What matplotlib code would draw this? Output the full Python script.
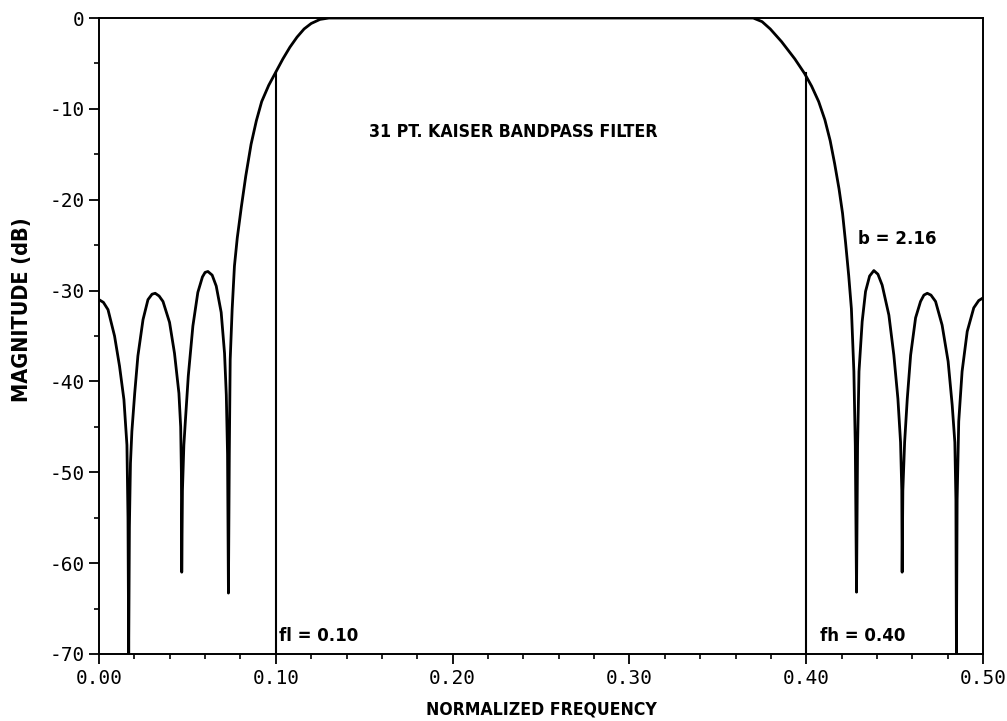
import numpy as np
import matplotlib
matplotlib.use("Agg")
import matplotlib.pyplot as plt
from matplotlib.ticker import MultipleLocator

plt.rcParams['axes.unicode_minus'] = False

# magnitude response (normalized frequency, dB)
freq_low = [0.0000, 0.0025, 0.0051, 0.0088, 0.0116, 0.0141, 0.0158, 0.0164, 0.0168, 0.0172,
            0.0178, 0.0186, 0.0202, 0.0220, 0.0249, 0.0277, 0.0300, 0.0318, 0.0340, 0.0362,
            0.0399, 0.0427, 0.0452, 0.0462, 0.0466, 0.0468, 0.0472, 0.0480, 0.0488, 0.0505,
            0.0531, 0.0559, 0.0585, 0.0600, 0.0616, 0.0640, 0.0663, 0.0691, 0.0710, 0.0720,
            0.0727, 0.0732, 0.0737, 0.0742, 0.0753, 0.0766, 0.0782, 0.0805, 0.0830, 0.0860,
            0.0890, 0.0920, 0.0960, 0.1000, 0.1040, 0.1080, 0.1120, 0.1160, 0.1200, 0.1250,
            0.1300]
mag_low = [-31.0, -31.3, -32.1, -35.0, -38.3, -42.0, -47.0, -55.0, -70.0, -56.0,
           -49.0, -45.5, -41.3, -37.2, -33.2, -31.0, -30.4, -30.3, -30.6, -31.2,
           -33.5, -36.9, -41.3, -45.0, -50.0, -61.0, -52.0, -47.0, -44.5, -39.4,
           -33.9, -30.2, -28.5, -28.0, -27.9, -28.3, -29.5, -32.4, -36.9, -41.5,
           -48.0, -63.3, -48.0, -37.6, -32.1, -27.3, -24.2, -20.8, -17.4, -13.9,
           -11.3, -9.2, -7.4, -5.95, -4.5, -3.2, -2.1, -1.2, -0.6, -0.15,
           0.0]

freq_high = [0.3700, 0.3750, 0.3796, 0.3860, 0.3935, 0.3990, 0.4030, 0.4070, 0.4105, 0.4135,
             0.4160, 0.4185, 0.4205, 0.4222, 0.4240, 0.4255, 0.4269, 0.4277, 0.4284, 0.4290,
             0.4298, 0.4316, 0.4335, 0.4358, 0.4382, 0.4405, 0.4429, 0.4467, 0.4495, 0.4518,
             0.4533, 0.4540, 0.4542, 0.4546, 0.4556, 0.4571, 0.4590, 0.4618, 0.4646, 0.4665,
             0.4684, 0.4705, 0.4731, 0.4768, 0.4802, 0.4825, 0.4840, 0.4846, 0.4849, 0.4853,
             0.4862, 0.4881, 0.4910, 0.4947, 0.4975, 0.5000]
mag_high = [0.0, -0.4, -1.2, -2.6, -4.5, -6.1, -7.5, -9.2, -11.2, -13.5,
            -16.0, -18.8, -21.5, -24.7, -28.4, -32.0, -38.9, -47.0, -63.2, -47.0,
            -38.9, -33.4, -30.1, -28.4, -27.8, -28.2, -29.4, -32.7, -37.1, -41.9,
            -46.7, -52.0, -61.0, -52.0, -46.7, -41.9, -37.1, -33.0, -31.2, -30.5,
            -30.3, -30.5, -31.2, -33.8, -37.8, -42.6, -46.7, -53.0, -70.0, -53.0,
            -44.4, -38.9, -34.5, -31.9, -31.1, -30.8]

band_edges = [0.10, 0.40]
edge_mags = [-5.95, -6.1]
edge_labels = ["fl = 0.10", "fh = 0.40"]

label_font = ['DejaVu Sans']

fig = plt.figure(figsize=(10.07, 7.21), dpi=100)
ax = fig.add_axes([0.0983, 0.093, 0.878, 0.882])

freq = freq_low + freq_high
mag = mag_low + mag_high
ax.plot(freq, mag, color='black', linewidth=2.0, solid_joinstyle='round')

# band edge markers
for f, m in zip(band_edges, edge_mags):
    ax.plot([f, f], [-70, m], color='black', linewidth=1.5)

ax.set_xlim(0, 0.5)
ax.set_ylim(-70, 0)
ax.xaxis.set_major_locator(MultipleLocator(0.1))
ax.xaxis.set_minor_locator(MultipleLocator(0.02))
ax.yaxis.set_major_locator(MultipleLocator(10))
ax.yaxis.set_minor_locator(MultipleLocator(5))
ax.set_xticks(ax.get_xticks())
ax.set_xticklabels([f"{v:.2f}" for v in ax.get_xticks()])
ax.set_xlim(0, 0.5)
ax.tick_params(which='major', direction='out', length=7, width=1.3, labelsize=14)
ax.tick_params(which='minor', direction='out', length=3.5, width=1.2)
for lab in ax.get_xticklabels() + ax.get_yticklabels():
    lab.set_family('DejaVu Sans Mono')
for s in ax.spines.values():
    s.set_linewidth(1.4)

txt = dict(fontweight='bold', family=label_font, fontstretch='condensed')
ax.text(0.234, -12.5, "31 PT. KAISER BANDPASS FILTER", ha='center', va='center',
        fontsize=12.7, **txt)
ax.text(0.429, -24.3, "b = 2.16", ha='left', va='center', fontsize=13.3, **txt)
ax.text(0.102, -68.0, edge_labels[0], ha='left', va='center', fontsize=13.3, **txt)
ax.text(0.408, -68.0, edge_labels[1], ha='left', va='center', fontsize=13.3, **txt)

fig.text(0.538, 0.0166, "NORMALIZED FREQUENCY", ha='center', va='center',
         fontsize=12.6, **txt)
fig.text(0.022, 0.57, "MAGNITUDE (dB)", ha='center', va='center', rotation=90,
         fontsize=15.5, **txt)

fig.savefig("out.png", dpi=100)
